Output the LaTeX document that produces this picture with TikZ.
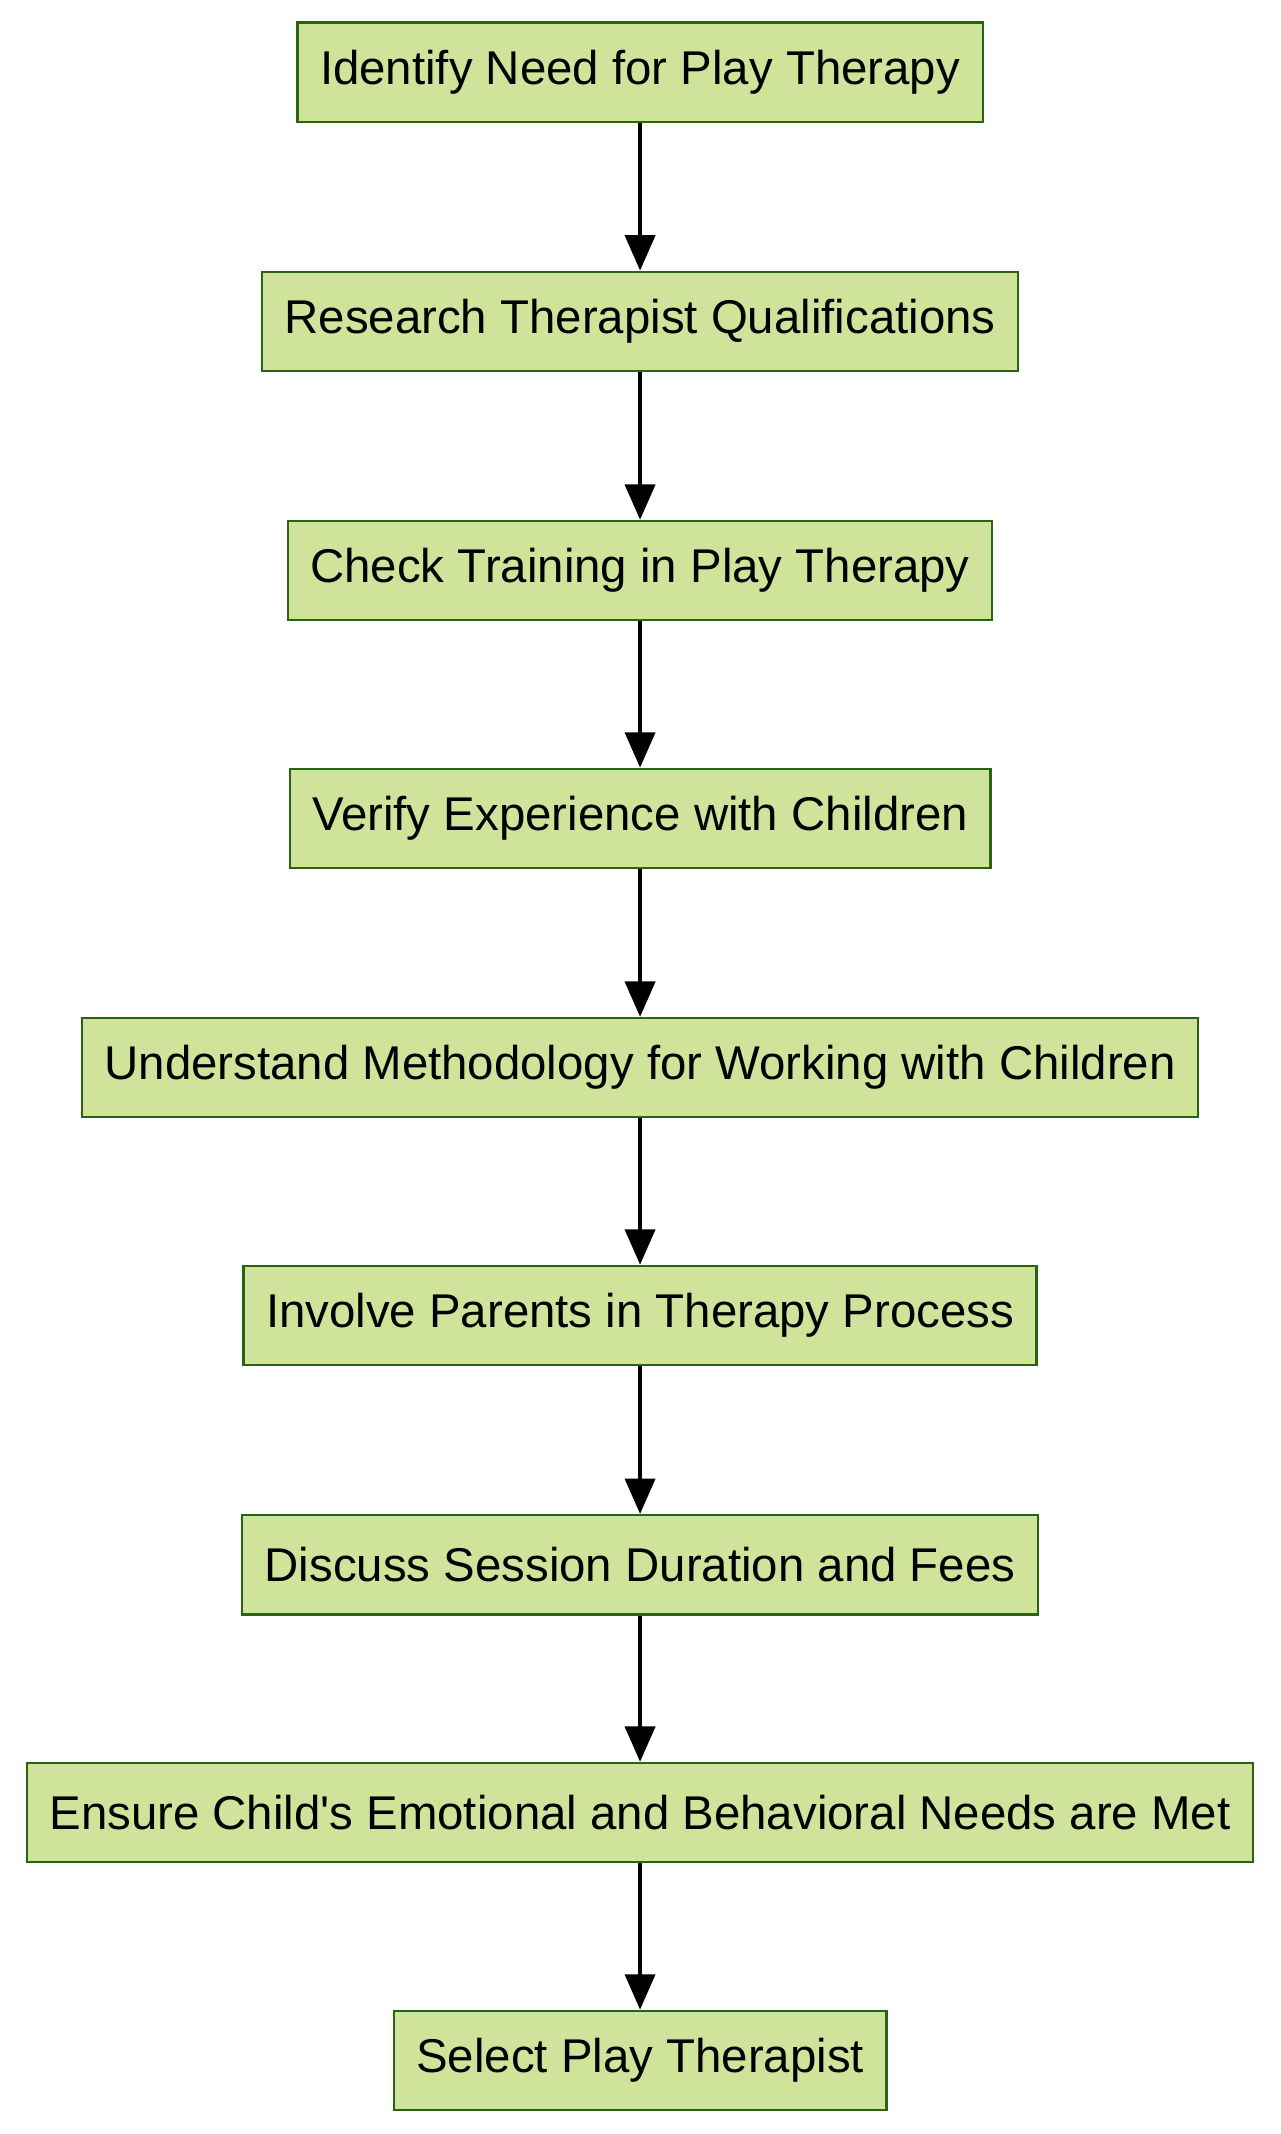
\documentclass[tikz,border=0pt]{standalone}
\usepackage{fontspec}
\setmainfont{Liberation Sans}
\usetikzlibrary{arrows.meta}
\definecolor{boxfill}{RGB}{208,227,155}
\definecolor{boxline}{RGB}{40,100,20}
\begin{document}
\begin{tikzpicture}[x=1pt,y=-1pt,
  stepbox/.style={draw=boxline,line width=1.6pt,fill=boxfill,minimum height=73pt,inner xsep=16.5pt,font=\fontsize{34.8}{40}\selectfont,text=black},
  conn/.style={-{Triangle[length=26pt,width=22pt]},line width=3pt,black}]
\useasboundingbox (0,0) rectangle (940,1567);
\fill[white] (0,0) rectangle (940,1567);
\node[stepbox] (n1) at (470,53) {Identify Need for Play Therapy};
\node[stepbox] (n2) at (470,236) {Research Therapist Qualifications};
\node[stepbox] (n3) at (470,419) {Check Training in Play Therapy};
\node[stepbox] (n4) at (470,601) {Verify Experience with Children};
\node[stepbox] (n5) at (470,784) {Understand Methodology for Working with Children};
\node[stepbox] (n6) at (470,966) {Involve Parents in Therapy Process};
\node[stepbox] (n7) at (470,1149) {Discuss Session Duration and Fees};
\node[stepbox] (n8) at (470,1331) {Ensure Child\textquotesingle s Emotional and Behavioral Needs are Met};
\node[stepbox] (n9) at (470,1513) {Select Play Therapist};
\foreach \a/\b in {n1/n2,n2/n3,n3/n4,n4/n5,n5/n6,n6/n7,n7/n8,n8/n9}
  \draw[conn] (\a) -- (\b);
\end{tikzpicture}
\end{document}
